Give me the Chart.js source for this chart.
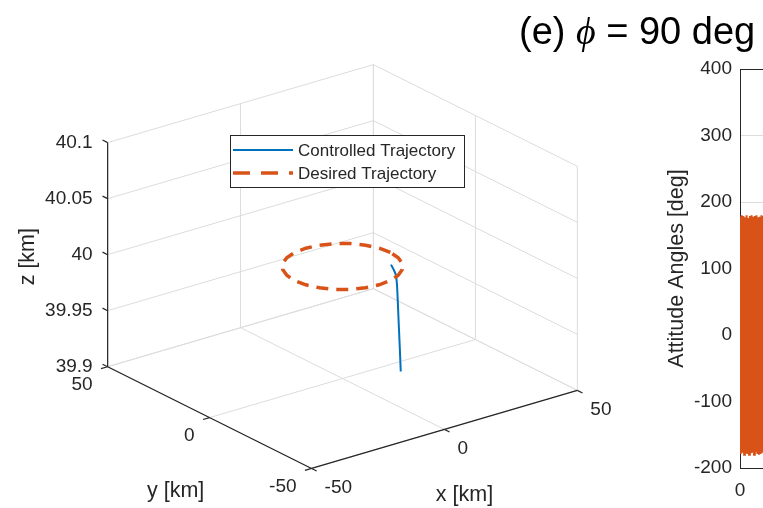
<!DOCTYPE html>
<html>
<head>
<meta charset="utf-8">
<script src="https://cdn.jsdelivr.net/npm/chart.js@4.4.1/dist/chart.umd.min.js"></script>
<style>
html, body { margin: 0; padding: 0; background: #fff; width: 763px; height: 508px; overflow: hidden; }
#trajCanvas { position: absolute; left: 0; top: 0; }
#attCanvas { position: absolute; left: 640px; top: 0; }
#title { position: absolute; left: 519px; top: 12px; font: 38px "Liberation Sans", Arial, sans-serif; line-height: 38px; color: #000; white-space: nowrap; }
#title i { font-family: "Liberation Serif", "DejaVu Serif", serif; }
</style>
</head>
<body>
<canvas id="trajCanvas" width="640" height="508"></canvas>
<canvas id="attCanvas" width="460" height="508"></canvas>
<div id="title">(e) <i>ϕ</i> = 90 deg</div>
<script>
// Axis ranges and ticks of the 3D plot
const xRange = [-50, 50];
const yRange = [-50, 50];
const zRange = [39.9, 40.1];
const xTicks = [-50, 0, 50];
const yTicks = [-50, 0, 50];
const zTicks = [39.9, 39.95, 40, 40.05, 40.1];
const xTickLabels = ['-50', '0', '50'];
const yTickLabels = ['-50', '0', '50'];
const zTickLabels = ['39.9', '39.95', '40', '40.05', '40.1'];

// Desired trajectory (circle at 40 km)
const desiredX = [18, 17.39, 15.59, 12.73, 9, 4.66, 0, -4.66, -9, -12.73, -15.59, -17.39, -18, -17.39, -15.59, -12.73, -9, -4.66, 0, 4.66, 9, 12.73, 15.59, 17.39, 18];
const desiredY = [0, 4.66, 9, 12.73, 15.59, 17.39, 18, 17.39, 15.59, 12.73, 9, 4.66, 0, -4.66, -9, -12.73, -15.59, -17.39, -18, -17.39, -15.59, -12.73, -9, -4.66, 0];
const desiredZ = [40, 40, 40, 40, 40, 40, 40, 40, 40, 40, 40, 40, 40, 40, 40, 40, 40, 40, 40, 40, 40, 40, 40, 40, 40];

// Controlled trajectory
const controlledX = [17.7, 17.7, 17.7, 17.7, 17.7, 17.7, 17.7, 17.7];
const controlledY = [-0.7, -1.9, -3.1, -3.6, -4.0, -4.4, -4.9, -5.5];
const controlledZ = [39.990, 39.987, 39.983, 39.976, 39.962, 39.945, 39.925, 39.899];

// Attitude angle history (right panel, only its start is visible)
const attitudeTime = [0, 0.5, 1, 1.5, 2, 2.5, 3, 3.5, 4, 4.5, 5, 5.5, 6, 6.5, 7, 7.5, 8, 8.5, 9, 9.5,
    10, 10.5, 11, 11.5, 12, 12.5, 13, 13.5, 14, 14.5, 15, 15.5, 16, 16.5, 17, 17.5, 18, 18.5, 19, 19.5];
const attitudeAngle = [178, -179, 180, -177, 179, -180, 177, -178, 180, -179, 176, -180, 179, -178, 180, -177, 178, -180, 179, -176,
    180, -179, 177, -180, 178, -179, 180, -177, 179, -180, 176, -178, 180, -179, 177, -180, 179, -178, 180, -179];

// View settings (MATLAB-like orthographic view)
const VIEW_AZ = -37.5;
const VIEW_EL = 22.5;
const Z_ASPECT = 0.724;
const VIEW_CENTER = { x: 342.5, y: 266.5 };
const VIEW_SCALE = 335;

const BLUE = '#0072BD';
const ORANGE = '#D95319';
const AXIS_COLOR = '#262626';
const GRID_COLOR = '#dcdcdc';
const FONT = '"Liberation Sans", Arial, sans-serif';

// Projects a 3D point to 2D view coordinates
function project(x, y, z) {
    const a = VIEW_AZ * Math.PI / 180;
    const e = VIEW_EL * Math.PI / 180;
    const u = (x - xRange[0]) / (xRange[1] - xRange[0]) - 0.5;
    const v = (y - yRange[0]) / (yRange[1] - yRange[0]) - 0.5;
    const w = ((z - zRange[0]) / (zRange[1] - zRange[0]) - 0.5) * Z_ASPECT;
    return {
        x: u * Math.cos(a) + v * Math.sin(a),
        y: (-u * Math.sin(a) + v * Math.cos(a)) * Math.sin(e) + w * Math.cos(e)
    };
}

function segment(p, q, color, width, order) {
    return {
        label: '',
        data: [project(...p), project(...q)],
        showLine: true,
        borderColor: color,
        borderWidth: width,
        pointRadius: 0,
        order: order
    };
}

// Grid lines on the floor and on the two back walls
const [x0, x1] = xRange, [y0, y1] = yRange, [z0, z1] = zRange;
const datasets = [];
xTicks.forEach(t => {
    datasets.push(segment([t, y0, z0], [t, y1, z0], GRID_COLOR, 1, 4));
    datasets.push(segment([t, y1, z0], [t, y1, z1], GRID_COLOR, 1, 4));
});
yTicks.forEach(t => {
    datasets.push(segment([x0, t, z0], [x1, t, z0], GRID_COLOR, 1, 4));
    datasets.push(segment([x1, t, z0], [x1, t, z1], GRID_COLOR, 1, 4));
});
zTicks.forEach(t => {
    datasets.push(segment([x0, y1, t], [x1, y1, t], GRID_COLOR, 1, 4));
    datasets.push(segment([x1, y0, t], [x1, y1, t], GRID_COLOR, 1, 4));
});

// Axis lines and tick marks
datasets.push(segment([x0, y0, z0], [x1, y0, z0], AXIS_COLOR, 1.2, 3));
datasets.push(segment([x0, y0, z0], [x0, y1, z0], AXIS_COLOR, 1.2, 3));
datasets.push(segment([x0, y1, z0], [x0, y1, z1], AXIS_COLOR, 1.2, 3));
xTicks.forEach(t => datasets.push(segment([t, y0, z0], [t, y0 - 2.5, z0], AXIS_COLOR, 1.2, 3)));
yTicks.forEach(t => datasets.push(segment([x0, t, z0], [x0 - 2.5, t, z0], AXIS_COLOR, 1.2, 3)));
zTicks.forEach(t => datasets.push(segment([x0, y1, t], [x0, y1 + 2.5, t], AXIS_COLOR, 1.2, 3)));

datasets.push({
    label: 'Controlled Trajectory',
    data: controlledX.map((x, i) => project(x, controlledY[i], controlledZ[i])),
    showLine: true,
    borderColor: BLUE,
    borderWidth: 2,
    pointRadius: 0,
    tension: 0.3,
    order: 1
});
datasets.push({
    label: 'Desired Trajectory',
    data: desiredX.map((x, i) => project(x, desiredY[i], desiredZ[i])),
    showLine: true,
    borderColor: ORANGE,
    borderWidth: 3.5,
    borderDash: [12, 8],
    pointRadius: 0,
    order: 0
});

// Draws tick labels, axis labels and legend of the 3D plot
const axes3dPlugin = {
    id: 'axes3d',
    afterDatasetsDraw(chart) {
        const ctx = chart.ctx;
        const sx = chart.scales.x, sy = chart.scales.y;
        const pix = (x, y, z) => {
            const p = project(x, y, z);
            return { x: sx.getPixelForValue(p.x), y: sy.getPixelForValue(p.y) };
        };
        ctx.save();
        ctx.fillStyle = AXIS_COLOR;
        ctx.font = '19px ' + FONT;
        ctx.textBaseline = 'middle';

        ctx.textAlign = 'right';
        zTicks.forEach((t, i) => {
            const p = pix(x0, y1, t);
            ctx.fillText(zTickLabels[i], p.x - 15, p.y);
        });
        yTicks.forEach((t, i) => {
            const p = pix(x0, t, z0);
            ctx.fillText(yTickLabels[i], p.x - 15, p.y + 18);
        });
        ctx.textAlign = 'left';
        xTicks.forEach((t, i) => {
            const p = pix(t, y0, z0);
            ctx.fillText(xTickLabels[i], p.x + 13, p.y + 19);
        });

        // Axis labels
        ctx.font = '21.5px ' + FONT;
        ctx.textAlign = 'center';
        const xm = pix(0, y0, z0);
        ctx.fillText('x [km]', xm.x + 20, xm.y + 66);
        const ym = pix(x0, 0, z0);
        ctx.fillText('y [km]', ym.x - 34, ym.y + 74);
        const zm = pix(x0, y1, (z0 + z1) / 2);
        ctx.save();
        ctx.translate(zm.x - 80, zm.y + 2);
        ctx.rotate(-Math.PI / 2);
        ctx.fillText('z [km]', 0, 0);
        ctx.restore();

        // Legend
        const entries = chart.data.datasets.filter(d => d.label);
        const box = { left: 230, top: 135, width: 234, height: 52 };
        ctx.fillStyle = '#fff';
        ctx.fillRect(box.left, box.top, box.width, box.height);
        ctx.strokeStyle = AXIS_COLOR;
        ctx.lineWidth = 1;
        ctx.strokeRect(box.left + 0.5, box.top + 0.5, box.width, box.height);
        ctx.font = '17px ' + FONT;
        ctx.textAlign = 'left';
        entries.forEach((d, i) => {
            const y = box.top + 15 + i * 23;
            ctx.beginPath();
            ctx.strokeStyle = d.borderColor;
            ctx.lineWidth = d.borderWidth;
            ctx.setLineDash(d.borderDash ? [17, 11] : []);
            ctx.moveTo(box.left + 3, y);
            ctx.lineTo(box.left + 63, y);
            ctx.stroke();
            ctx.setLineDash([]);
            ctx.fillStyle = AXIS_COLOR;
            ctx.fillText(d.label, box.left + 68, y + 1);
        });
        ctx.restore();
    }
};

const trajCanvas = document.getElementById('trajCanvas');
new Chart(trajCanvas, {
    type: 'scatter',
    data: { datasets: datasets },
    options: {
        responsive: false,
        animation: false,
        layout: { padding: 0 },
        plugins: { legend: { display: false }, tooltip: { enabled: false } },
        scales: {
            x: {
                display: false,
                min: -VIEW_CENTER.x / VIEW_SCALE,
                max: (trajCanvas.width - VIEW_CENTER.x) / VIEW_SCALE
            },
            y: {
                display: false,
                min: -(trajCanvas.height - VIEW_CENTER.y) / VIEW_SCALE,
                max: VIEW_CENTER.y / VIEW_SCALE
            }
        }
    },
    plugins: [axes3dPlugin]
});

// Box outline for the right panel
const boxPlugin = {
    id: 'box',
    afterDraw(chart) {
        const { ctx, chartArea: a } = chart;
        ctx.save();
        ctx.strokeStyle = AXIS_COLOR;
        ctx.lineWidth = 1;
        ctx.beginPath();
        ctx.moveTo(a.left, a.top + 0.5);
        ctx.lineTo(a.right, a.top + 0.5);
        ctx.lineTo(a.right - 0.5, a.bottom);
        ctx.stroke();
        ctx.restore();
    }
};

new Chart(document.getElementById('attCanvas'), {
    type: 'scatter',
    data: {
        datasets: [{
            label: 'Attitude',
            data: attitudeTime.map((t, i) => ({ x: t, y: attitudeAngle[i] })),
            showLine: true,
            borderColor: ORANGE,
            borderWidth: 2,
            pointRadius: 0
        }]
    },
    options: {
        responsive: false,
        animation: false,
        layout: { padding: { top: 69, right: 30, left: 0, bottom: 0 } },
        plugins: { legend: { display: false }, tooltip: { enabled: false } },
        scales: {
            x: {
                type: 'linear',
                min: 0,
                max: 200,
                ticks: { stepSize: 50, color: AXIS_COLOR, font: { family: FONT, size: 19 }, padding: 11 },
                grid: { color: GRID_COLOR, drawTicks: false },
                border: { color: AXIS_COLOR },
                afterFit: s => { s.height = 40; }
            },
            y: {
                min: -200,
                max: 400,
                ticks: { stepSize: 100, color: AXIS_COLOR, font: { family: FONT, size: 19 }, padding: 8 },
                grid: { color: GRID_COLOR, drawTicks: false },
                border: { color: AXIS_COLOR },
                title: {
                    display: true,
                    text: 'Attitude Angles [deg]',
                    color: AXIS_COLOR,
                    font: { family: FONT, size: 21.5 },
                    padding: { top: 24, bottom: 0 }
                },
                afterFit: s => { s.width = 100; }
            }
        }
    },
    plugins: [boxPlugin]
});
</script>
</body>
</html>
